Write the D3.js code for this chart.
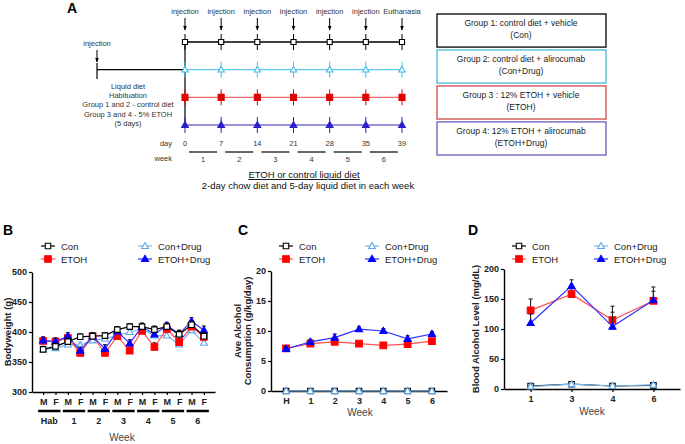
<!DOCTYPE html>
<html><head><meta charset="utf-8">
<script src="https://cdn.jsdelivr.net/npm/d3@7"></script>
<style>body{margin:0;background:#fff} svg{display:block;font-family:"Liberation Sans",Arial,sans-serif}</style>
</head><body><svg id="c" width="685" height="444"></svg>
<script>
// ---------- DATA ----------
const timelineDays = ["0","7","14","21","28","35","39"];
const timelineEvents = ["injection","injection","injection","injection","injection","injection","Euthanasia"];
const timelineWeeks = ["1","2","3","4","5","6"];
const timelineGroups = ["Con","Con+Drug","ETOH","ETOH+Drug"];
const habituationText = ["Liquid diet","Habituation","Group 1 and 2 - control diet","Group 3 and 4 - 5% ETOH","(5 days)"];
const groupBoxLine1 = ["Group 1: control diet + vehicle","Group 2: control diet + alirocumab","Group 3 : 12% ETOH + vehicle","Group 4: 12% ETOH + alirocumab"];
const groupBoxLine2 = ["(Con)","(Con+Drug)","(ETOH)","(ETOH+Drug)"];

const legendOrder = ["Con","ETOH","Con+Drug","ETOH+Drug"];

// Panel B: body weight
const bwWeeks = ["Hab","1","2","3","4","5","6"];
const bwSex = ["M","F"];
const bwCon      = [371,376,384,392,393,394,404,409,409,404,409,396,412,393];
const bwConDrug  = [371,373,379,378,386,389,394,400,405,394,394,379,403,382];
const bwEtoh     = [385,384,390,365,393,365,393,369,402,375,405,383,409,392];
const bwEtohDrug = [386,384,393,369,393,372,401,381,409,396,411,397,418,403];
const bwConErr      = [5,5,5,5,5,5,5,5,5,6,5,6,6,6];
const bwConDrugErr  = [5,5,5,5,5,5,5,5,5,5,5,5,5,5];
const bwEtohErr     = [6,6,6,5,6,5,6,6,6,7,6,6,6,6];
const bwEtohDrugErr = [6,6,6,6,6,7,6,6,6,6,5,6,6,7];

// Panel C: alcohol consumption
const alcWeeks = ["H","1","2","3","4","5","6"];
const alcCon      = [0,0,0,0,0,0,0];
const alcConDrug  = [0,0,0,0,0,0,0];
const alcEtoh     = [7.1,7.9,8.2,7.9,7.6,7.8,8.3];
const alcEtohDrug = [7.0,8.2,8.9,10.3,10.0,8.7,9.5];
const alcEtohErr     = [0.3,0.3,0.3,0.3,0.4,0.3,0.3];
const alcEtohDrugErr = [0.3,0.4,0.6,0.4,0.4,0.5,0.4];

// Panel D: blood alcohol
const balWeeks = ["1","3","4","6"];
const balCon      = [5,8,5,6];
const balConDrug  = [4,8,5,7];
const balEtoh     = [131,158,115,147];
const balEtohDrug = [110,172,104,148];
const balConErr      = [1,1,1,1];
const balConDrugErr  = [1,1,1,1];
const balEtohErr     = [19,7,23,16];
const balEtohDrugErr = [15,10,24,22];

// ---------- STYLES ----------
const sty = {
  "Con":       {stroke:"#000", line:"#000", fill:"#fff", sym:d3.symbolSquare, size:30},
  "Con+Drug":  {stroke:"#5aa8ec", line:"#7ab8ee", fill:"#fff", sym:d3.symbolTriangle, size:20},
  "ETOH":      {stroke:"#ff0000", line:"#ff5050", fill:"#ff0000", sym:d3.symbolSquare, size:44},
  "ETOH+Drug": {stroke:"#0000ff", line:"#3030ff", fill:"#0000ff", sym:d3.symbolTriangle, size:22}
};
const styA = {
  "Con":       {stroke:"#000", line:"#000", fill:"#fff", sym:d3.symbolSquare, tick:"#000", size:26},
  "Con+Drug":  {stroke:"#3cc0e8", line:"#5cc8ec", fill:"#fff", sym:d3.symbolTriangle, tick:"#3cc0e8", size:18},
  "ETOH":      {stroke:"#e00000", line:"#ec6a6a", fill:"#e00000", sym:d3.symbolSquare, tick:"#e00000", size:36},
  "ETOH+Drug": {stroke:"#2a20c8", line:"#7a6ccc", fill:"#2a20c8", sym:d3.symbolTriangle, tick:"#2a20c8", size:20}
};
const boxColors = ["#000","#4ab8d8","#d04848","#6a5ab8"];

const svg = d3.select("#c");
svg.append("rect").attr("width",685).attr("height",444).attr("fill","#fff");

function marker(g, s, x, y) {
  g.append("path").attr("d", d3.symbol().type(s.sym).size(s.size)())
    .attr("transform", `translate(${x},${y + (s.sym===d3.symbolTriangle?0.5:0)})`)
    .attr("fill", s.fill).attr("stroke", s.stroke).attr("stroke-width", 1.1);
}

// ---------- PANEL A ----------
const A = svg.append("g");
A.append("text").attr("x",67).attr("y",13).attr("font-size",14).attr("font-weight","bold").text("A");
const tx = d3.scalePoint().domain(timelineDays).range([185,402]);
const ty = d3.scalePoint().domain(timelineGroups).range([42,125]);
A.append("defs").append("marker").attr("id","arr").attr("viewBox","0 0 10 10").attr("refX",9).attr("refY",5)
  .attr("markerWidth",5).attr("markerHeight",5).attr("orient","auto")
  .append("path").attr("d","M0,1 L10,5 L0,9 z").attr("fill","#000");

timelineDays.forEach((d,i)=>{
  A.append("text").attr("x",tx(d)).attr("y",14).attr("text-anchor","middle").attr("font-size",7.5).attr("fill","#333").text(timelineEvents[i]);
  A.append("line").attr("x1",tx(d)).attr("x2",tx(d)).attr("y1",18).attr("y2",30).attr("stroke","#000").attr("stroke-width",1).attr("marker-end","url(#arr)");
});
A.append("text").attr("x",97).attr("y",46).attr("text-anchor","middle").attr("font-size",7.5).attr("fill","#333").text("injection");
A.append("line").attr("x1",97).attr("x2",97).attr("y1",50).attr("y2",62).attr("stroke","#000").attr("marker-end","url(#arr)");
A.append("line").attr("x1",97).attr("x2",97).attr("y1",63).attr("y2",79).attr("stroke","#000").attr("stroke-width",1.2);
A.append("line").attr("x1",97).attr("x2",tx("0")).attr("y1",ty("Con+Drug")).attr("y2",ty("Con+Drug")).attr("stroke","#000").attr("stroke-width",1.2);
A.append("line").attr("x1",tx("0")).attr("x2",tx("0")).attr("y1",ty("Con")).attr("y2",ty("ETOH+Drug")).attr("stroke","#000").attr("stroke-width",1.2);
habituationText.forEach((t,i)=>{
  A.append("text").attr("x",128).attr("y",89+i*9.2).attr("text-anchor","middle").attr("font-size",7.5).attr("fill","#333").text(t);
});
timelineGroups.forEach(gname=>{
  const s = styA[gname], y = ty(gname);
  A.append("line").attr("x1",tx("0")).attr("x2",tx("39")).attr("y1",y).attr("y2",y).attr("stroke",s.line).attr("stroke-width",1.4);
  timelineDays.forEach(d=>{
    A.append("line").attr("x1",tx(d)).attr("x2",tx(d)).attr("y1",y-8).attr("y2",y+8).attr("stroke",s.tick).attr("stroke-width",1);
    marker(A, s, tx(d), y);
  });
});
A.append("text").attr("x",172).attr("y",146).attr("text-anchor","end").attr("font-size",7.5).attr("fill","#333").text("day");
timelineDays.forEach(d=>{
  A.append("text").attr("x",tx(d)).attr("y",146).attr("text-anchor","middle").attr("font-size",7.5).attr("fill","#333").text(d);
});
A.append("text").attr("x",172).attr("y",161).attr("text-anchor","end").attr("font-size",7.5).attr("fill","#333").text("week");
timelineWeeks.forEach((w,i)=>{
  const cx = (tx(timelineDays[i])+tx(timelineDays[i+1]))/2;
  A.append("line").attr("x1",cx-14).attr("x2",cx+14).attr("y1",152).attr("y2",152).attr("stroke","#000").attr("stroke-width",1.2);
  A.append("text").attr("x",cx).attr("y",162).attr("text-anchor","middle").attr("font-size",7.5).attr("fill","#333").text(w);
});
A.append("text").attr("x",304).attr("y",178).attr("text-anchor","middle").attr("font-size",9.5).attr("fill","#111")
  .attr("text-decoration","underline").text("ETOH or control liquid diet");
A.append("text").attr("x",308).attr("y",189).attr("text-anchor","middle").attr("font-size",9.5).attr("fill","#111")
  .text("2-day chow diet and 5-day liquid diet in each week");
const by = d3.scaleBand().domain(groupBoxLine1).range([14,155]).paddingInner(0.08);
groupBoxLine1.forEach((t,i)=>{
  const y0 = by(t), h = by.bandwidth();
  A.append("rect").attr("x",437).attr("y",y0).attr("width",169).attr("height",h)
    .attr("fill","#fff").attr("stroke",boxColors[i]).attr("stroke-width",1.3);
  A.append("text").attr("x",521).attr("y",y0+h*0.37).attr("text-anchor","middle").attr("font-size",8.5).attr("fill","#222").text(t);
  A.append("text").attr("x",521).attr("y",y0+h*0.73).attr("text-anchor","middle").attr("font-size",8.5).attr("fill","#222").text(groupBoxLine2[i]);
});

// ---------- generic chart ----------
function chart(o) {
  const g = svg.append("g");
  g.append("text").attr("x",o.labelX).attr("y",235).attr("font-size",14).attr("font-weight","bold").text(o.label);
  legendOrder.forEach((name,i)=>{
    const s = sty[name];
    const lx = i<2 ? o.leg1 : o.leg2, ly = i%2===0 ? 246 : 259;
    g.append("line").attr("x1",lx-7).attr("x2",lx+7).attr("y1",ly).attr("y2",ly).attr("stroke",s.line).attr("stroke-width",1.2);
    marker(g, s, lx, ly);
    g.append("text").attr("x",lx+13).attr("y",ly+3.5).attr("font-size",9.5).attr("fill","#222").text(name);
  });
  const x = o.x, y = o.y;
  const ya = g.append("g").attr("transform",`translate(${x.range()[0]},0)`)
    .call(d3.axisLeft(y).tickValues(o.yticks).tickSize(3).tickPadding(2).tickSizeOuter(0));
  const xa = g.append("g").attr("transform",`translate(0,${y.range()[0]})`)
    .call(d3.axisBottom(x).tickSize(3).tickPadding(4).tickSizeOuter(0).tickFormat(o.xfmt||(d=>d)));
  [ya,xa].forEach(a=>{
    a.select(".domain").attr("stroke","#000").attr("stroke-width",1.4);
    a.selectAll(".tick line").attr("stroke","#000").attr("stroke-width",1.2);
    a.selectAll("text").attr("font-size",9).attr("font-weight","bold").attr("fill","#222").attr("font-family","Liberation Sans, Arial, sans-serif");
  });
  o.ytitle.forEach((t,i)=>{
    g.append("text").attr("transform",`translate(${o.ytitleX[i]},${(y.range()[0]+y.range()[1])/2}) rotate(-90)`)
      .attr("text-anchor","middle").attr("font-size",9.5).attr("font-weight","bold").attr("fill","#222").text(t);
  });
  o.order.forEach(name=>{
    const s = sty[name], vals = o.data[name], errs = o.err[name];
    const pts = o.cats.map((c,i)=>[x(c), y(vals[i])]);
    g.append("path").attr("d", d3.line()(pts)).attr("fill","none").attr("stroke",s.line).attr("stroke-width",1.2);
    if (errs) o.cats.forEach((c,i)=>{
      const xx = x(c), y1 = y(vals[i]), y2 = y(vals[i]+errs[i]);
      const ec = name==="Con+Drug" ? "#5aa8ec" : (name==="Con" ? "#000" : "#222");
      g.append("line").attr("x1",xx).attr("x2",xx).attr("y1",y1).attr("y2",y2).attr("stroke",ec).attr("stroke-width",1.1);
      g.append("line").attr("x1",xx-2).attr("x2",xx+2).attr("y1",y2).attr("y2",y2).attr("stroke",ec).attr("stroke-width",1.1);
    });
    o.cats.forEach((c,i)=>marker(g, s, x(c), y(vals[i])));
  });
  return g;
}

// ---------- PANEL B ----------
const bwCats = bwWeeks.flatMap(w=>bwSex.map(s=>w+"|"+s));
const xB = d3.scalePoint().domain(bwCats).range([32,215]).padding(0.9);
const yB = d3.scaleLinear().domain([300,500]).range([392,272]);
const gB = chart({label:"B", labelX:3, leg1:48, leg2:145, x:xB, y:yB, yticks:[300,350,400,450,500],
  xfmt:d=>d.split("|")[1], ytitle:["Bodyweight (g)"], ytitleX:[11], cats:bwCats,
  order:["Con+Drug","ETOH","ETOH+Drug","Con"],
  data:{"Con":bwCon,"Con+Drug":bwConDrug,"ETOH":bwEtoh,"ETOH+Drug":bwEtohDrug},
  err:{"Con":bwConErr,"Con+Drug":bwConDrugErr,"ETOH":bwEtohErr,"ETOH+Drug":bwEtohDrugErr}});
bwWeeks.forEach(w=>{
  const x1 = xB(w+"|M"), x2 = xB(w+"|F");
  gB.append("line").attr("x1",x1-5).attr("x2",x2+5).attr("y1",411).attr("y2",411).attr("stroke","#000").attr("stroke-width",2.5);
  gB.append("text").attr("x",(x1+x2)/2).attr("y",424).attr("text-anchor","middle").attr("font-size",9).attr("font-weight","bold").attr("fill","#222").text(w);
});
gB.append("text").attr("x",122).attr("y",441).attr("text-anchor","middle").attr("font-size",10).attr("fill","#444").text("Week");

// ---------- PANEL C ----------
const xC = d3.scalePoint().domain(alcWeeks).range([271,447]).padding(0.62);
const yC = d3.scaleLinear().domain([0,20]).range([391,271]);
const gC = chart({label:"C", labelX:238, leg1:286, leg2:372, x:xC, y:yC, yticks:[0,5,10,15,20],
  ytitle:["Ave Alcohol","Consumption (g/kg/day)"], ytitleX:[241,251], cats:alcWeeks,
  order:["ETOH","ETOH+Drug","Con","Con+Drug"],
  data:{"Con":alcCon,"Con+Drug":alcConDrug,"ETOH":alcEtoh,"ETOH+Drug":alcEtohDrug},
  err:{"ETOH":alcEtohErr,"ETOH+Drug":alcEtohDrugErr}});
gC.append("text").attr("x",360).attr("y",416).attr("text-anchor","middle").attr("font-size",10).attr("fill","#444").text("Week");

// ---------- PANEL D ----------
const xD = d3.scalePoint().domain(balWeeks).range([504,680]).padding(0.65);
const yD = d3.scaleLinear().domain([0,200]).range([389,269]);
const gD = chart({label:"D", labelX:468, leg1:519, leg2:601, x:xD, y:yD, yticks:[0,50,100,150,200],
  ytitle:["Blood Alcohol Level (mg/dL)"], ytitleX:[479], cats:balWeeks,
  order:["ETOH","ETOH+Drug","Con","Con+Drug"],
  data:{"Con":balCon,"Con+Drug":balConDrug,"ETOH":balEtoh,"ETOH+Drug":balEtohDrug},
  err:{"Con":balConErr,"Con+Drug":balConDrugErr,"ETOH":balEtohErr,"ETOH+Drug":balEtohDrugErr}});
gD.append("text").attr("x",592).attr("y",415).attr("text-anchor","middle").attr("font-size",10).attr("fill","#444").text("Week");
</script></body></html>
